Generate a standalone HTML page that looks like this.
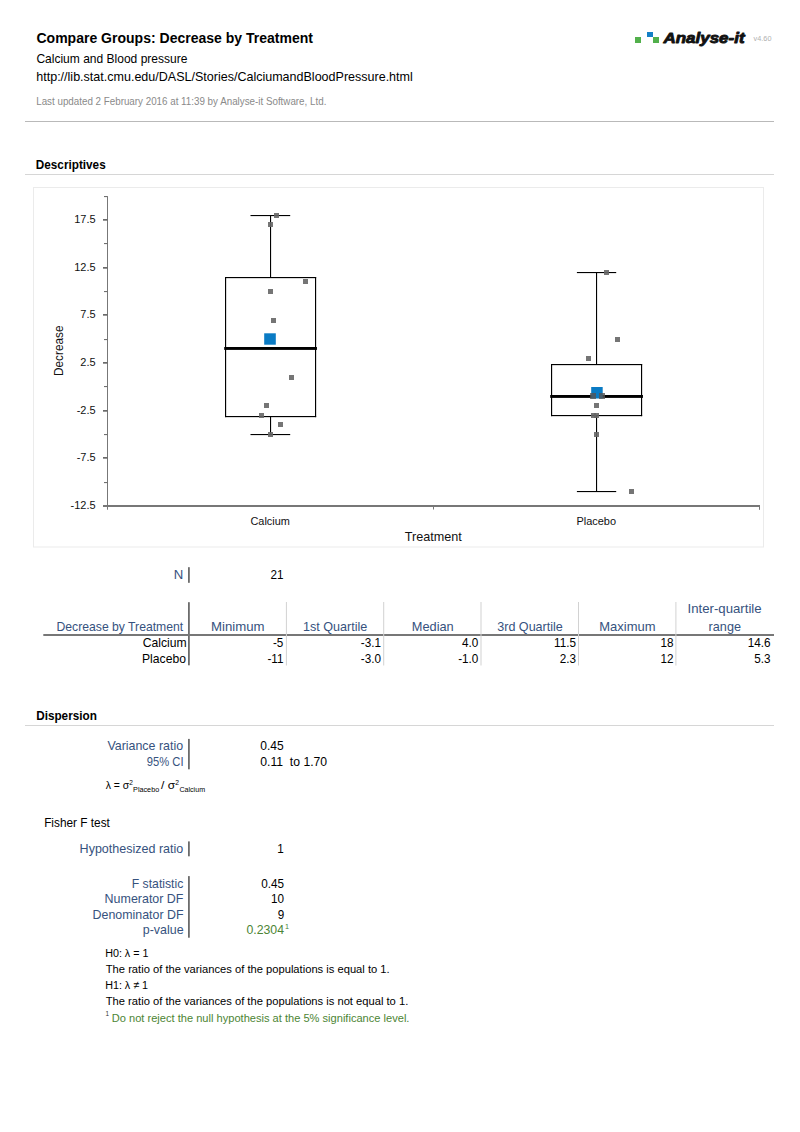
<!DOCTYPE html>
<html><head><meta charset="utf-8"><style>
html,body{margin:0;padding:0;background:#fff;width:800px;height:1132px;overflow:hidden}
svg{position:absolute;left:0;top:0;font-family:"Liberation Sans",sans-serif}
</style></head><body>
<svg width="800" height="1132" viewBox="0 0 800 1132">
<rect x="25" y="121" width="749" height="1" fill="#b9b9b9"/>
<rect x="25" y="174" width="749" height="1" fill="#d6d6d6"/>
<rect x="25" y="725" width="749" height="1" fill="#d6d6d6"/>
<rect x="635" y="37" width="6" height="6" fill="#52b04c"/>
<rect x="647" y="32" width="6" height="5" fill="#1480c6"/>
<rect x="653" y="37" width="6" height="6" fill="#52b04c"/>
<rect x="33.5" y="187.5" width="730" height="359.5" fill="none" stroke="#ebebeb" stroke-width="1"/>
<rect x="107" y="196.2" width="1" height="313.5" fill="#777"/>
<rect x="104" y="196" width="3.5" height="1.1" fill="#707070"/>
<rect x="103" y="219" width="4.5" height="1.7" fill="#6a6a6a"/>
<rect x="104" y="243" width="3.5" height="1.1" fill="#707070"/>
<rect x="103" y="267" width="4.5" height="1.7" fill="#6a6a6a"/>
<rect x="104" y="291" width="3.5" height="1.1" fill="#707070"/>
<rect x="103" y="314" width="4.5" height="1.7" fill="#6a6a6a"/>
<rect x="104" y="339" width="3.5" height="1.1" fill="#707070"/>
<rect x="103" y="362" width="4.5" height="1.7" fill="#6a6a6a"/>
<rect x="104" y="386" width="3.5" height="1.1" fill="#707070"/>
<rect x="103" y="410" width="4.5" height="1.7" fill="#6a6a6a"/>
<rect x="104" y="434" width="3.5" height="1.1" fill="#707070"/>
<rect x="103" y="457" width="4.5" height="1.7" fill="#6a6a6a"/>
<rect x="104" y="482" width="3.5" height="1.1" fill="#707070"/>
<rect x="103" y="505" width="4.5" height="1.7" fill="#6a6a6a"/>
<rect x="103" y="505" width="657" height="2" fill="#777"/>
<rect x="433" y="505" width="1" height="4.5" fill="#777"/>
<rect x="759" y="505" width="1" height="4.8" fill="#777"/>
<rect x="225" y="277" width="91.15" height="1.15" fill="#000"/>
<rect x="225" y="416" width="91.15" height="1.15" fill="#000"/>
<rect x="225" y="277" width="1.15" height="140.15" fill="#000"/>
<rect x="315" y="277" width="1.15" height="140.15" fill="#000"/>
<rect x="270" y="215" width="1.1" height="62" fill="#000"/>
<rect x="270" y="416" width="1.1" height="18" fill="#000"/>
<rect x="250.5" y="215" width="39.69999999999999" height="1.1" fill="#000"/>
<rect x="250.5" y="434" width="39.69999999999999" height="1.1" fill="#000"/>
<rect x="224.2" y="347" width="92.75" height="2.9" fill="#000"/>
<rect x="551" y="364" width="91.15" height="1.15" fill="#000"/>
<rect x="551" y="415" width="91.15" height="1.15" fill="#000"/>
<rect x="551" y="364" width="1.15" height="52.15" fill="#000"/>
<rect x="641" y="364" width="1.15" height="52.15" fill="#000"/>
<rect x="596" y="272" width="1.1" height="92" fill="#000"/>
<rect x="596" y="415" width="1.1" height="76" fill="#000"/>
<rect x="576.9" y="272" width="39.30000000000007" height="1.1" fill="#000"/>
<rect x="576.9" y="491" width="39.30000000000007" height="1.1" fill="#000"/>
<rect x="550.2" y="395" width="92.75" height="2.9" fill="#000"/>
<rect x="264.2" y="333.3" width="11.6" height="11.4" fill="#0a7bc4"/>
<rect x="591.2" y="387" width="11.5" height="11.5" fill="#0a7bc4"/>
<rect x="274" y="213" width="5" height="5" fill="#666" fill-opacity="0.9"/>
<rect x="268" y="222" width="5" height="5" fill="#666" fill-opacity="0.9"/>
<rect x="303" y="279" width="5" height="5" fill="#666" fill-opacity="0.9"/>
<rect x="268" y="289" width="5" height="5" fill="#666" fill-opacity="0.9"/>
<rect x="271" y="318" width="5" height="5" fill="#666" fill-opacity="0.9"/>
<rect x="289" y="375" width="5" height="5" fill="#666" fill-opacity="0.9"/>
<rect x="264" y="403" width="5" height="5" fill="#666" fill-opacity="0.9"/>
<rect x="259" y="413" width="5" height="5" fill="#666" fill-opacity="0.9"/>
<rect x="278" y="422" width="5" height="5" fill="#666" fill-opacity="0.9"/>
<rect x="268" y="432" width="5" height="5" fill="#666" fill-opacity="0.9"/>
<rect x="604" y="270" width="5" height="5" fill="#666" fill-opacity="0.9"/>
<rect x="615" y="337" width="5" height="5" fill="#666" fill-opacity="0.9"/>
<rect x="586" y="356" width="5" height="5" fill="#666" fill-opacity="0.9"/>
<rect x="594" y="403" width="5" height="5" fill="#666" fill-opacity="0.9"/>
<rect x="591" y="413" width="5" height="5" fill="#666" fill-opacity="0.9"/>
<rect x="594" y="413" width="5" height="5" fill="#666" fill-opacity="0.9"/>
<rect x="594" y="432" width="5" height="5" fill="#666" fill-opacity="0.9"/>
<rect x="629" y="489" width="5" height="5" fill="#666" fill-opacity="0.9"/>
<rect x="590" y="393" width="6" height="6" fill="#555" fill-opacity="0.8"/>
<rect x="599" y="393" width="6" height="6" fill="#555" fill-opacity="0.8"/>
<rect x="188" y="567.2" width="1.8" height="15.6" fill="#6c6c6c"/>
<rect x="188" y="602.2" width="1.8" height="63.1" fill="#6c6c6c"/>
<rect x="188" y="738.9" width="1.8" height="30.4" fill="#6c6c6c"/>
<rect x="188" y="841.4" width="1.8" height="14.9" fill="#6c6c6c"/>
<rect x="188" y="876.1" width="1.8" height="61.6" fill="#6c6c6c"/>
<rect x="43.3" y="634" width="730.7" height="2" fill="#777"/>
<rect x="285.9" y="602" width="1" height="63.5" fill="#d2d2d2"/>
<rect x="383.2" y="602" width="1" height="63.5" fill="#d2d2d2"/>
<rect x="480.5" y="602" width="1" height="63.5" fill="#d2d2d2"/>
<rect x="578.0" y="602" width="1" height="63.5" fill="#d2d2d2"/>
<rect x="675.4" y="602" width="1" height="63.5" fill="#d2d2d2"/>
<text x="36.44" y="43.00" textLength="276.60" lengthAdjust="spacingAndGlyphs" font-size="15.26" font-weight="bold">Compare Groups: Decrease by Treatment</text>
<text x="36.40" y="63.00" textLength="151.04" lengthAdjust="spacingAndGlyphs" font-size="12.35">Calcium and Blood pressure</text>
<text x="36.25" y="81.00" textLength="376.53" lengthAdjust="spacingAndGlyphs" font-size="12.35">http://lib.stat.cmu.edu/DASL/Stories/CalciumandBloodPressure.html</text>
<text x="36.22" y="105.00" textLength="290.14" lengthAdjust="spacingAndGlyphs" font-size="10.17" fill="#8a8a8a">Last updated 2 February 2016 at 11:39 by Analyse-it Software, Ltd.</text>
<text x="663.51" y="42.50" textLength="81.06" lengthAdjust="spacingAndGlyphs" font-size="14.83" font-weight="bold" font-style="italic" fill="#111" stroke="#111" stroke-width="0.9" stroke-linejoin="round">Analyse-it</text>
<text x="753.60" y="40.70" textLength="17.86" lengthAdjust="spacingAndGlyphs" font-size="6.69" fill="#b0b0b0">v4.60</text>
<text x="35.80" y="168.75" textLength="69.88" lengthAdjust="spacingAndGlyphs" font-size="12.35" font-weight="bold">Descriptives</text>
<text x="36.20" y="719.80" textLength="60.62" lengthAdjust="spacingAndGlyphs" font-size="12.35" font-weight="bold">Dispersion</text>
<text x="74.23" y="223.00" textLength="21.37" lengthAdjust="spacingAndGlyphs" font-size="10.61" fill="#111">17.5</text>
<text x="74.23" y="270.67" textLength="21.37" lengthAdjust="spacingAndGlyphs" font-size="10.61" fill="#111">12.5</text>
<text x="80.34" y="318.33" textLength="15.26" lengthAdjust="spacingAndGlyphs" font-size="10.61" fill="#111">7.5</text>
<text x="80.34" y="366.00" textLength="15.26" lengthAdjust="spacingAndGlyphs" font-size="10.61" fill="#111">2.5</text>
<text x="76.68" y="413.66" textLength="18.92" lengthAdjust="spacingAndGlyphs" font-size="10.61" fill="#111">-2.5</text>
<text x="76.68" y="461.32" textLength="18.92" lengthAdjust="spacingAndGlyphs" font-size="10.61" fill="#111">-7.5</text>
<text x="70.58" y="508.99" textLength="25.02" lengthAdjust="spacingAndGlyphs" font-size="10.61" fill="#111">-12.5</text>
<text x="250.45" y="524.80" textLength="39.43" lengthAdjust="spacingAndGlyphs" font-size="11.34" fill="#111">Calcium</text>
<text x="576.42" y="524.80" textLength="39.57" lengthAdjust="spacingAndGlyphs" font-size="11.34" fill="#111">Placebo</text>
<text x="404.75" y="541.00" textLength="57.02" lengthAdjust="spacingAndGlyphs" font-size="12.79" fill="#111">Treatment</text>
<text transform="rotate(-90)" x="-375.94" y="63.30" textLength="50.37" lengthAdjust="spacingAndGlyphs" font-size="12.79" fill="#111">Decrease</text>
<text x="173.85" y="579.00" textLength="9.50" lengthAdjust="spacingAndGlyphs" font-size="12.06" fill="#36527e">N</text>
<text x="270.61" y="579.00" textLength="13.03" lengthAdjust="spacingAndGlyphs" font-size="12.06">21</text>
<text x="56.53" y="631.00" textLength="126.65" lengthAdjust="spacingAndGlyphs" font-size="12.06" fill="#36527e">Decrease by Treatment</text>
<text x="210.94" y="631.00" textLength="53.59" lengthAdjust="spacingAndGlyphs" font-size="12.06" fill="#36527e">Minimum</text>
<text x="303.02" y="631.00" textLength="64.34" lengthAdjust="spacingAndGlyphs" font-size="12.06" fill="#36527e">1st Quartile</text>
<text x="411.78" y="631.00" textLength="41.94" lengthAdjust="spacingAndGlyphs" font-size="12.06" fill="#36527e">Median</text>
<text x="497.22" y="631.00" textLength="65.63" lengthAdjust="spacingAndGlyphs" font-size="12.06" fill="#36527e">3rd Quartile</text>
<text x="599.26" y="631.00" textLength="56.26" lengthAdjust="spacingAndGlyphs" font-size="12.06" fill="#36527e">Maximum</text>
<text x="687.61" y="613.40" textLength="73.96" lengthAdjust="spacingAndGlyphs" font-size="12.06" fill="#36527e">Inter-quartile</text>
<text x="708.64" y="631.00" textLength="32.31" lengthAdjust="spacingAndGlyphs" font-size="12.06" fill="#36527e">range</text>
<text x="142.73" y="646.80" textLength="43.93" lengthAdjust="spacingAndGlyphs" font-size="12.06">Calcium</text>
<text x="141.98" y="662.60" textLength="43.96" lengthAdjust="spacingAndGlyphs" font-size="12.06">Placebo</text>
<text x="272.91" y="646.80" textLength="10.41" lengthAdjust="spacingAndGlyphs" font-size="12.06">-5</text>
<text x="360.86" y="646.80" textLength="20.18" lengthAdjust="spacingAndGlyphs" font-size="12.06">-3.1</text>
<text x="462.04" y="646.80" textLength="16.28" lengthAdjust="spacingAndGlyphs" font-size="12.06">4.0</text>
<text x="554.00" y="646.80" textLength="21.92" lengthAdjust="spacingAndGlyphs" font-size="12.06">11.5</text>
<text x="660.50" y="646.80" textLength="13.03" lengthAdjust="spacingAndGlyphs" font-size="12.06">18</text>
<text x="747.83" y="646.80" textLength="22.79" lengthAdjust="spacingAndGlyphs" font-size="12.06">14.6</text>
<text x="267.38" y="662.60" textLength="16.06" lengthAdjust="spacingAndGlyphs" font-size="12.06">-11</text>
<text x="360.74" y="662.60" textLength="20.18" lengthAdjust="spacingAndGlyphs" font-size="12.06">-3.0</text>
<text x="458.14" y="662.60" textLength="20.18" lengthAdjust="spacingAndGlyphs" font-size="12.06">-1.0</text>
<text x="559.64" y="662.60" textLength="16.28" lengthAdjust="spacingAndGlyphs" font-size="12.06">2.3</text>
<text x="660.61" y="662.60" textLength="13.03" lengthAdjust="spacingAndGlyphs" font-size="12.06">12</text>
<text x="754.34" y="662.60" textLength="16.28" lengthAdjust="spacingAndGlyphs" font-size="12.06">5.3</text>
<text x="107.40" y="750.20" textLength="75.65" lengthAdjust="spacingAndGlyphs" font-size="12.06" fill="#36527e">Variance ratio</text>
<text x="146.85" y="766.00" textLength="36.73" lengthAdjust="spacingAndGlyphs" font-size="12.06" fill="#36527e">95% CI</text>
<text x="260.24" y="749.60" textLength="23.40" lengthAdjust="spacingAndGlyphs" font-size="12.06">0.45</text>
<text x="260.23" y="765.60" textLength="66.91" lengthAdjust="spacingAndGlyphs" font-size="12.06">0.11  to 1.70</text>
<text x="44.15" y="826.90" textLength="65.72" lengthAdjust="spacingAndGlyphs" font-size="12.06">Fisher F test</text>
<text x="79.60" y="852.90" textLength="103.65" lengthAdjust="spacingAndGlyphs" font-size="12.06" fill="#36527e">Hypothesized ratio</text>
<text x="277.13" y="852.90" textLength="6.51" lengthAdjust="spacingAndGlyphs" font-size="12.06">1</text>
<text x="131.72" y="888.10" textLength="51.62" lengthAdjust="spacingAndGlyphs" font-size="12.06" fill="#36527e">F statistic</text>
<text x="104.60" y="903.10" textLength="78.88" lengthAdjust="spacingAndGlyphs" font-size="12.06" fill="#36527e">Numerator DF</text>
<text x="92.61" y="919.00" textLength="90.87" lengthAdjust="spacingAndGlyphs" font-size="12.06" fill="#36527e">Denominator DF</text>
<text x="142.75" y="933.50" textLength="40.80" lengthAdjust="spacingAndGlyphs" font-size="12.06" fill="#36527e">p-value</text>
<text x="261.33" y="888.10" textLength="22.79" lengthAdjust="spacingAndGlyphs" font-size="12.06">0.45</text>
<text x="271.10" y="903.10" textLength="13.03" lengthAdjust="spacingAndGlyphs" font-size="12.06">10</text>
<text x="277.73" y="919.00" textLength="6.51" lengthAdjust="spacingAndGlyphs" font-size="12.06">9</text>
<text x="246.43" y="933.50" textLength="37.59" lengthAdjust="spacingAndGlyphs" font-size="12.06" fill="#4c8534">0.2304</text>
<text x="285.09" y="929.40" textLength="4.04" lengthAdjust="spacingAndGlyphs" font-size="7.70" fill="#4c8534">1</text>
<text x="105.14" y="957.00" textLength="43.36" lengthAdjust="spacingAndGlyphs" font-size="11.05">H0: λ = 1</text>
<text x="105.78" y="973.00" textLength="283.91" lengthAdjust="spacingAndGlyphs" font-size="11.05">The ratio of the variances of the populations is equal to 1.</text>
<text x="105.14" y="989.00" textLength="42.98" lengthAdjust="spacingAndGlyphs" font-size="11.05">H1: λ ≠ 1</text>
<text x="105.78" y="1005.00" textLength="302.50" lengthAdjust="spacingAndGlyphs" font-size="11.05">The ratio of the variances of the populations is not equal to 1.</text>
<text x="105.55" y="1015.50" textLength="3.54" lengthAdjust="spacingAndGlyphs" font-size="6.40" fill="#333">1</text>
<text x="111.71" y="1022.00" textLength="297.76" lengthAdjust="spacingAndGlyphs" font-size="11.05" fill="#4c8534">Do not reject the null hypothesis at the 5% significance level.</text>
<text x="105.70" y="788.70" textLength="23.58" lengthAdjust="spacingAndGlyphs" font-size="11.63">λ = σ</text>
<text x="129.27" y="784.50" textLength="3.63" lengthAdjust="spacingAndGlyphs" font-size="7.99">2</text>
<text x="133.12" y="791.70" textLength="26.04" lengthAdjust="spacingAndGlyphs" font-size="7.27">Placebo</text>
<text x="161.00" y="788.70" textLength="14.09" lengthAdjust="spacingAndGlyphs" font-size="11.63">/ σ</text>
<text x="175.26" y="784.50" textLength="3.75" lengthAdjust="spacingAndGlyphs" font-size="7.99">2</text>
<text x="179.45" y="791.70" textLength="25.60" lengthAdjust="spacingAndGlyphs" font-size="7.27">Calcium</text>
</svg>
</body></html>
